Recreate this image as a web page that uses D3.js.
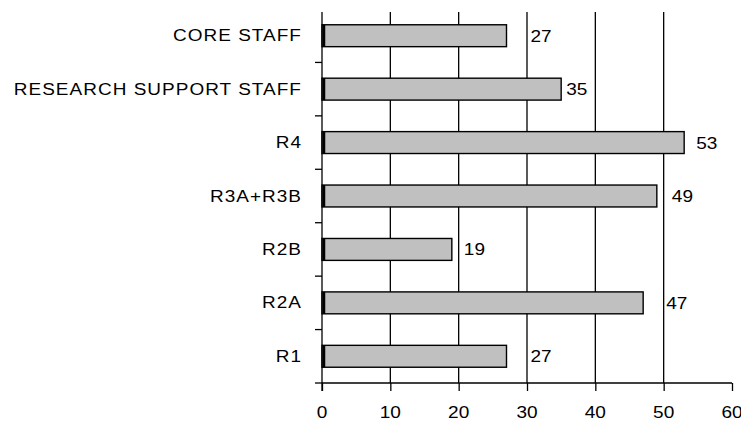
<!DOCTYPE html>
<html>
<head>
<meta charset="utf-8">
<script src="https://cdn.jsdelivr.net/npm/d3@7"></script>
<style>
  html, body { margin: 0; padding: 0; background: #fff; }
  svg { display: block; }
  text { font-family: "Liberation Sans", Arial, sans-serif; fill: #000; }
</style>
</head>
<body>
<svg id="chart" width="741" height="423"></svg>
<script>
const categories = ["CORE STAFF", "RESEARCH SUPPORT STAFF", "R4", "R3A+R3B", "R2B", "R2A", "R1"];
const values = [27, 35, 53, 49, 19, 47, 27];
const xTicks = [0, 10, 20, 30, 40, 50, 60];
const gridTicks = [10, 20, 30, 40, 50];
const labelOffsets = [24, 5, 12, 15, 12, 23, 24];

(function () {
const svg = d3.select("#chart");
const plotLeft = 322, plotRight = 732, plotTop = 9, plotBottom = 383, axisTop = 12;

const x = d3.scaleLinear().domain([0, 60]).range([plotLeft, plotRight]);
const y = d3.scaleBand().domain(categories).range([plotTop, plotBottom])
  .paddingInner(0.59).paddingOuter(0.295);
const yb = d3.scaleBand().domain(categories).range([plotTop, plotBottom]).padding(0);

// gridlines
svg.append("g").selectAll("line").data(gridTicks).join("line")
  .attr("x1", d => x(d)).attr("x2", d => x(d))
  .attr("y1", axisTop).attr("y2", plotBottom)
  .attr("stroke", "#000").attr("stroke-width", 1.3);

// bars
const bars = svg.append("g");
bars.selectAll("rect").data(values).join("rect")
  .attr("x", x(0))
  .attr("y", (d, i) => y(categories[i]))
  .attr("width", d => x(d) - x(0))
  .attr("height", y.bandwidth())
  .attr("fill", "#c0c0c0")
  .attr("stroke", "#000")
  .attr("stroke-width", 1.4);
bars.selectAll("line").data(values).join("line")
  .attr("x1", x(0) + 2).attr("x2", x(0) + 2)
  .attr("y1", (d, i) => y(categories[i]))
  .attr("y2", (d, i) => y(categories[i]) + y.bandwidth())
  .attr("stroke", "#000").attr("stroke-width", 2.5);

// y axis line and category ticks (at band boundaries)
svg.append("line")
  .attr("x1", plotLeft).attr("x2", plotLeft).attr("y1", axisTop).attr("y2", plotBottom + 8)
  .attr("stroke", "#000").attr("stroke-width", 1.3);
const bounds = categories.slice(1).map(c => yb(c)).concat([plotBottom]);
svg.append("g").selectAll("line").data(bounds).join("line")
  .attr("x1", plotLeft - 7).attr("x2", plotLeft)
  .attr("y1", d => d).attr("y2", d => d)
  .attr("stroke", "#000").attr("stroke-width", 1.3);

// x axis
const xAxis = svg.append("g").attr("transform", `translate(0,${plotBottom})`)
  .call(d3.axisBottom(x).tickValues(xTicks).tickSize(8).tickSizeOuter(0).tickPadding(0));
xAxis.select(".domain").attr("stroke", "#000").attr("stroke-width", 1.3)
  .attr("d", `M${x(0)},0H${x(60)}`);
xAxis.selectAll(".tick line").attr("stroke", "#000").attr("stroke-width", 1.3);
xAxis.selectAll(".tick text").remove();
svg.append("g").selectAll("text").data(xTicks).join("text")
  .attr("transform", d => `translate(${x(d)},418) scale(1.12,1)`)
  .attr("text-anchor", "middle")
  .style("font-size", "17px")
  .text(d => d);

// category labels
svg.append("g").selectAll("text").data(categories).join("text")
  .attr("transform", c => `translate(302,${y(c) + y.bandwidth() / 2 + 5.5}) scale(1.15,1)`)
  .attr("text-anchor", "end")
  .style("font-size", "16.5px")
  .style("letter-spacing", "0.9px")
  .text(c => c);

// value labels
svg.append("g").selectAll("text").data(values).join("text")
  .attr("transform", (d, i) => `translate(${x(d) + labelOffsets[i]},${y(categories[i]) + y.bandwidth() / 2 + 6}) scale(1.12,1)`)
  .attr("text-anchor", "start")
  .style("font-size", "17px")
  .text(d => d);
})();
</script>
</body>
</html>
